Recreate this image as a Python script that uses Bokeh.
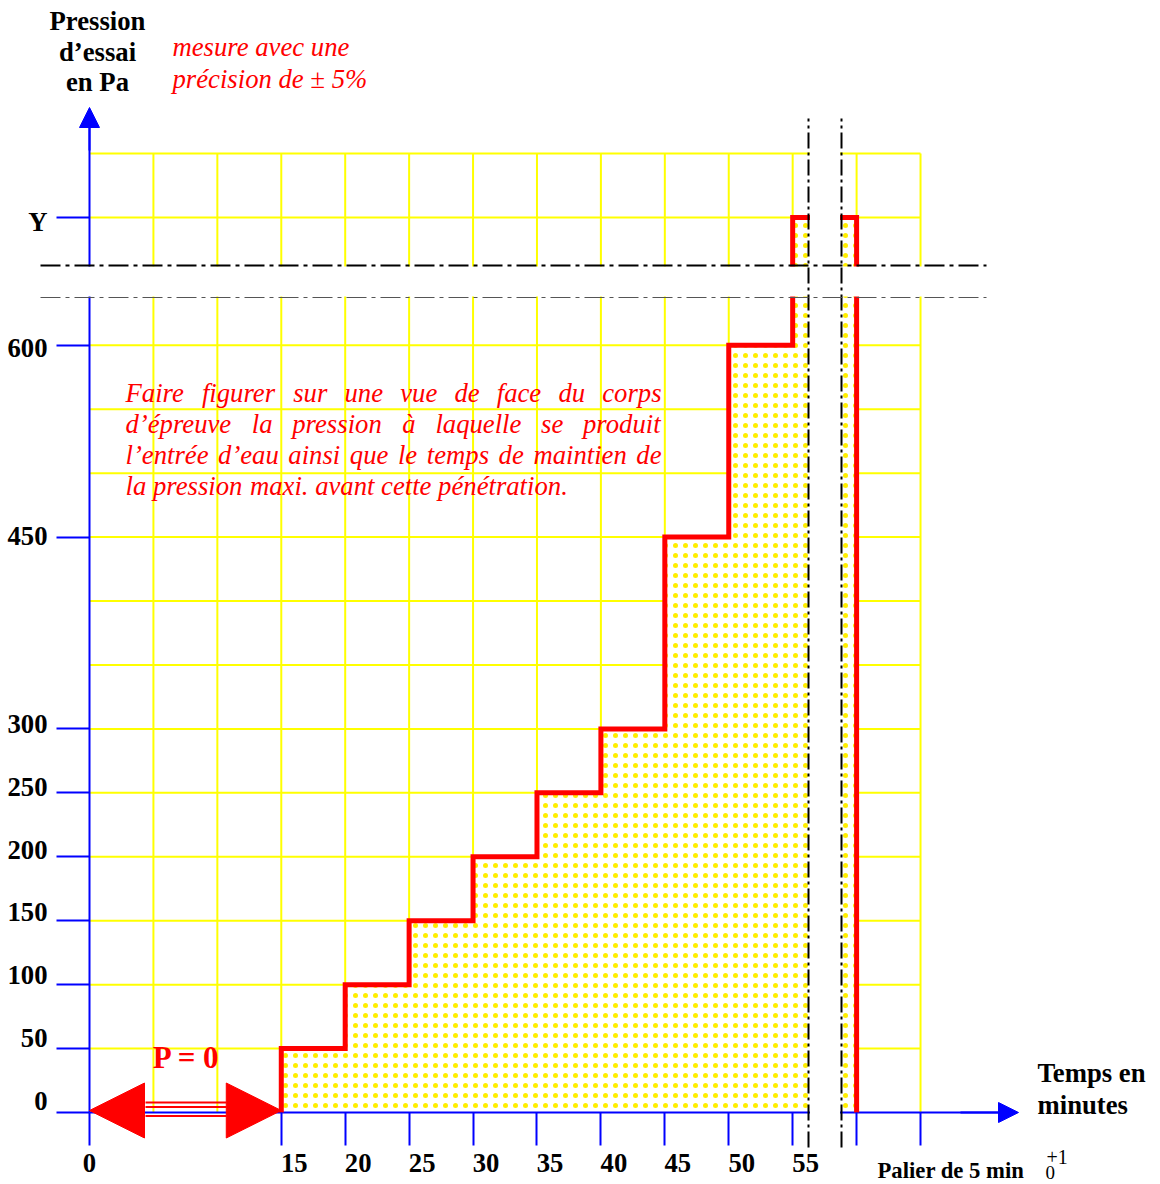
from bokeh.plotting import figure
from bokeh.models import Range1d, LinearAxis, FixedTicker, Arrow, NormalHead
from bokeh.core.properties import value
from bokeh.embed import file_html
from bokeh.resources import INLINE

# ---------------- data ----------------
step_start_min = [15, 20, 25, 30, 35, 40, 45, 50, 55]
step_pressure = [50, 100, 150, 200, 250, 300, 450, 600, 700]   # 700 = drawn level of "Y"
step_duration = 5
y_tick_values = [0, 50, 100, 150, 200, 250, 300, 450, 600, 700]
y_tick_labels = ["0", "50", "100", "150", "200", "250", "300", "450", "600", "Y"]
x_tick_values = [0, 15, 20, 25, 30, 35, 40, 45, 50, 55]
x_tick_labels = ["0", "15", "20", "25", "30", "35", "40", "45", "50", "55"]
x_extra_ticks = [60, 65]
grid_x = [5, 10, 15, 20, 25, 30, 35, 40, 45, 50, 55, 60, 65]
grid_y = [50, 100, 150, 200, 250, 300, 350, 400, 450, 500, 550, 600, 650, 700, 750]
paragraph = [
    "Faire figurer sur une vue de face du corps",
    "d\u2019\u00e9preuve la pression \u00e0 laquelle se produit",
    "l\u2019entr\u00e9e d\u2019eau ainsi que le temps de maintien de",
    "la pression maxi. avant cette p\u00e9n\u00e9tration.",
]

# ---------------- geometry (page pixels -> data) ----------------
W, H = 1160, 1184
X0, Y0 = 89.0, 1112.0
SX, SY = 12.785, 1.2787
def dx(X):
    return (X - X0) / SX
def dy(Y):
    return (Y0 - Y) / SY

FONT = value("Liberation Serif")

p = figure(width=W, height=H, x_range=Range1d(dx(0), dx(W)),
           y_range=Range1d(dy(H), dy(0)), output_backend="svg",
           toolbar_location=None, x_axis_location=None, y_axis_location=None,
           title=None, min_border=0, outline_line_color=None,
           background_fill_color="white", border_fill_color="white")
p.grid.grid_line_color = None
p.grid.visible = False

# grid
gx_top = max(grid_y)
gy_right = max(grid_x)
p.segment(x0=grid_x, y0=[0] * len(grid_x), x1=grid_x, y1=[gx_top] * len(grid_x),
          line_color="#FFFF00", line_width=2)
p.segment(x0=[0] * len(grid_y), y0=grid_y, x1=[gy_right] * len(grid_y), y1=grid_y,
          line_color="#FFFF00", line_width=2)

# step outline / fill built from data
xs, ys = [step_start_min[0]], [0]
for t, pr in zip(step_start_min, step_pressure):
    xs += [t, t + step_duration]
    ys += [pr, pr]
xs.append(step_start_min[-1] + step_duration)
ys.append(0)

p.patch(xs, ys, fill_color="white", line_color=None, hatch_pattern="dot",
        hatch_color="#FFEE00", hatch_scale=10, hatch_weight=5)

# axis lines
p.segment(x0=[0, 0], y0=[0, 0], x1=[0, dx(1000)], y1=[dy(122), 0],
          line_color="#0000FF", line_width=2)

p.line(xs, ys, line_color="#FF0000", line_width=5, line_join="miter")

# red P=0 shaft
p.segment(x0=[dx(145)] * 3, y0=[dy(1102), dy(1106.5), dy(1115.5)],
          x1=[dx(226)] * 3, y1=[dy(1102), dy(1106.5), dy(1115.5)],
          line_color="#FF0000", line_width=1.8)

# break bands
p.quad(left=[dx(809.5)], right=[dx(839.5)], bottom=[dy(1114)], top=[dy(112)],
       fill_color="white", line_color=None)
p.quad(left=[dx(30)], right=[dx(995)], bottom=[dy(296)], top=[dy(266)],
       fill_color="white", line_color=None)

# dash-dot break lines
p.segment(x0=[dx(808), dx(841)], y0=[dy(1147)] * 2, x1=[dx(808), dx(841)], y1=[dy(118)] * 2,
          line_color="black", line_width=2, line_dash="16 4 3 4")
p.segment(x0=[dx(40)], y0=[dy(265)], x1=[dx(986)], y1=[dy(265)],
          line_color="black", line_width=2, line_dash="20 5 4 5")
p.segment(x0=[dx(40)], y0=[dy(297)], x1=[dx(986)], y1=[dy(297)],
          line_color="#555555", line_width=1.2, line_dash="20 5 4 5")

# axes: ticks
yt = LinearAxis(fixed_location=0, ticker=FixedTicker(ticks=y_tick_values),
                axis_line_color=None, major_tick_line_color="#0000FF",
                major_tick_line_width=2, major_tick_in=0, major_tick_out=33,
                minor_tick_line_color=None, major_label_text_color=None)
p.add_layout(yt, "left")
xt = LinearAxis(fixed_location=0, ticker=FixedTicker(ticks=x_tick_values + x_extra_ticks),
                axis_line_color=None, major_tick_line_color="#0000FF",
                major_tick_line_width=2, major_tick_in=0, major_tick_out=33,
                minor_tick_line_color=None, major_label_text_color=None)
p.add_layout(xt, "below")

# axes: labels
ylab_pos = [round(9.38 + 0.981 * v, 3) for v in y_tick_values]
yl = LinearAxis(fixed_location=0, ticker=FixedTicker(ticks=ylab_pos),
                major_label_overrides={pos: lab for pos, lab in zip(ylab_pos, y_tick_labels)},
                axis_line_color=None, major_tick_line_color=None, major_tick_in=0,
                major_tick_out=0, minor_tick_line_color=None, major_label_standoff=42,
                major_label_text_font="Liberation Serif", major_label_text_font_style="bold",
                major_label_text_font_size="26.7px", major_label_text_color="black")
p.add_layout(yl, "left")
xlab_pos = [round(t + 13 * (len(lab) - 1) / SX, 3) for t, lab in zip(x_tick_values, x_tick_labels)]
xl = LinearAxis(fixed_location=0, ticker=FixedTicker(ticks=xlab_pos),
                major_label_overrides={pos: lab for pos, lab in zip(xlab_pos, x_tick_labels)},
                axis_line_color=None, major_tick_line_color=None, major_tick_in=0,
                major_tick_out=0, minor_tick_line_color=None, major_label_standoff=41,
                major_label_text_font="Liberation Serif", major_label_text_font_style="bold",
                major_label_text_font_size="26.7px", major_label_text_color="black")
p.add_layout(xl, "below")

# arrow heads
p.add_layout(Arrow(end=NormalHead(size=20, fill_color="#0000FF", line_color="#0000FF"),
                   x_start=0, y_start=dy(150), x_end=0, y_end=dy(107),
                   line_color="#0000FF", line_width=2))
p.add_layout(Arrow(end=NormalHead(size=20, fill_color="#0000FF", line_color="#0000FF"),
                   x_start=dx(960), y_start=0, x_end=dx(1018), y_end=0,
                   line_color="#0000FF", line_width=2))
p.add_layout(Arrow(start=NormalHead(size=55, fill_color="#FF0000", line_color="#FF0000"),
                   end=NormalHead(size=55, fill_color="#FF0000", line_color="#FF0000"),
                   x_start=0, y_start=dy(1110), x_end=step_start_min[0], y_end=dy(1110),
                   line_color=None))

def txt(X, Y, texts, size, color="black", style="bold", align="left"):
    p.text(x=[dx(v) for v in X], y=[dy(v) for v in Y], text=texts,
           text_font=FONT, text_font_size=size, text_font_style=style,
           text_color=color, text_align=align, text_baseline="middle")

F = "26.7px"
txt([97, 97, 97], [20, 51, 81], ["Pression", "d\u2019essai", "en Pa"], F, align="center")
txt([172, 172], [46, 78], ["mesure avec une", "pr\u00e9cision de \u00b1 5%"], F,
    color="#FF0000", style="italic")
txt([186], [1057], ["P = 0"], "31px", color="#FF0000", align="center")
txt([1037, 1037], [1072, 1104], ["Temps en", "minutes"], F)
txt([877], [1170], ["Palier de 5 min"], "22.7px")
txt([1046], [1156], ["+1"], "20px", style="normal")
txt([1045], [1172], ["0"], "19px", style="normal")

# justified italic paragraph (Times-italic advance widths, em units)
WID = {"F": .611, "a": .5, "c": .444, "d": .5, "e": .444, "f": .278, "g": .5, "i": .278,
       "l": .278, "m": .722, "n": .5, "o": .5, "p": .5, "q": .5, "r": .389, "s": .389,
       "t": .278, "u": .5, "v": .444, "x": .444, ".": .25, "\u2019": .333, "\u00e9": .444,
       "\u00e0": .5}
fs = 26.67
left, right = 125.0, 661.0
line_y = [392, 423, 454, 485]
wx, wy, wt = [], [], []
for i, (line, Y) in enumerate(zip(paragraph, line_y)):
    words = line.split()
    widths = [sum(WID.get(c, .5) for c in w) * fs for w in words]
    if i < len(paragraph) - 1:
        gap = (right - left - sum(widths)) / (len(words) - 1)
    else:
        gap = .25 * fs
    X = left
    for w, wd in zip(words, widths):
        wx.append(X); wy.append(Y); wt.append(w)
        X += wd + gap
txt(wx, wy, wt, F, color="#FF0000", style="italic")

open("out.html", "w").write(file_html(p, INLINE))
